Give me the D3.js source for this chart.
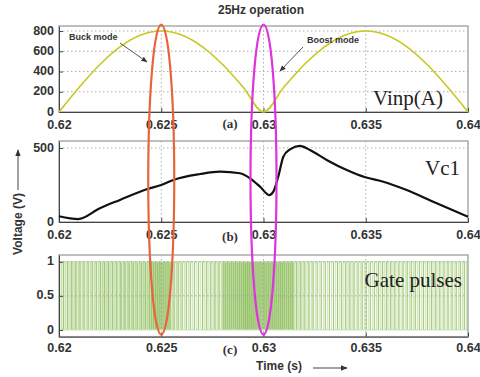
<!DOCTYPE html>
<html>
<head>
<meta charset="utf-8">
<script src="https://d3js.org/d3.v7.min.js"></script>
<style>
  body { margin: 0; background: #fff; }
  svg { display: block; }
  .tick text { font-family: Arial, "Liberation Sans", sans-serif; font-weight: bold; font-size: 12.5px; fill: #333; }
</style>
</head>
<body>
<script>
// ---- data ----
var timeTicks = [0.62, 0.625, 0.63, 0.635, 0.64];

// input voltage, one reading every 1 ms
var vinpTime = [0.620, 0.621, 0.622, 0.623, 0.624, 0.625, 0.626, 0.627, 0.628, 0.629, 0.630,
                0.631, 0.632, 0.633, 0.634, 0.635, 0.636, 0.637, 0.638, 0.639, 0.640];
var vinpVolt = [0, 247, 470, 647, 761, 800, 761, 647, 470, 247, 0,
                247, 470, 647, 761, 800, 761, 647, 470, 247, 0];
var vinpTicks = [0, 200, 400, 600, 800];

var vc1Time = [0.6200, 0.62094, 0.6220, 0.62298, 0.62429, 0.6250, 0.62559, 0.6269, 0.62787,
               0.62885, 0.62934, 0.62983, 0.63028, 0.63048, 0.63072, 0.63097, 0.6313, 0.63178,
               0.63227, 0.63309, 0.63407, 0.63498, 0.63586, 0.6370, 0.6383, 0.6400];
var vc1Volt = [39, 20, 93, 149, 221, 250, 284, 324, 340,
               329, 295, 239, 182, 205, 306, 441, 491, 514,
               486, 419, 351, 302, 272, 216, 137, 36];
var vc1Ticks = [0, 500];

// gate pulses: duty ratio for each 0.5 ms block, 5 switching periods per block
var pulsePeriod = 0.0001;
var pulseDuty = [0.72, 0.75, 0.72, 0.75, 0.8, 0.75, 0.8, 0.82, 0.85,
                 0.9, 0.9,
                 0.72, 0.65, 0.6, 0.65, 0.7,
                 0.9, 0.92, 0.95, 0.95, 0.97, 0.95, 0.9,
                 0.72, 0.65, 0.6, 0.6, 0.62, 0.65, 0.62, 0.6, 0.65,
                 0.65, 0.62, 0.65, 0.62, 0.65, 0.62, 0.62, 0.65];
var gateTicks = [0, 0.5, 1];

var modeTimes = [0.625, 0.63];
var modeColors = ["#e8643c", "#dd33e0"];

// ---- layout ----
var W = 480, H = 377;
var svg = d3.select("body").append("svg").attr("width", W).attr("height", H);

var x = d3.scaleLinear().domain([0.62, 0.64]).range([59, 468]);
var ya = d3.scaleLinear().domain([0, 850]).range([112, 26]);
var yb = d3.scaleLinear().domain([0, 547]).range([222, 141]);
var yc = d3.scaleLinear().domain([-0.1, 1.1]).range([336.7, 255]);

function panel(y, yTicks, yFmt, xLabelY, tag) {
    var g = svg.append("g");
    var top = y.range()[1], bot = y.range()[0];
    // grid
    g.selectAll(".hg").data(yTicks.filter(function (d) { return d > 0 && d < y.domain()[1]; }))
        .enter().append("line")
        .attr("x1", x.range()[0]).attr("x2", x.range()[1])
        .attr("y1", function (d) { return y(d); }).attr("y2", function (d) { return y(d); })
        .attr("stroke", "#999").attr("stroke-width", 0.8).attr("stroke-dasharray", "1.5,2.5");
    g.selectAll(".vg").data(timeTicks.slice(1, -1)).enter().append("line")
        .attr("x1", function (d) { return x(d); }).attr("x2", function (d) { return x(d); })
        .attr("y1", top).attr("y2", bot)
        .attr("stroke", "#999").attr("stroke-width", 0.8).attr("stroke-dasharray", "1.5,2.5");
    // box
    g.append("rect").attr("x", x.range()[0]).attr("y", top)
        .attr("width", x.range()[1] - x.range()[0]).attr("height", bot - top)
        .attr("fill", "none").attr("stroke", "#aaa").attr("stroke-width", 1.5);
    // axes
    var ax = g.append("g").attr("transform", "translate(0," + bot + ")")
        .call(d3.axisBottom(x).tickValues(timeTicks).tickSize(4).tickSizeOuter(0)
            .tickFormat(function (d) { return +d.toFixed(3); }));
    ax.select(".domain").attr("stroke", "#444");
    ax.selectAll(".tick line").attr("stroke", "#444").attr("y2", -4);
    ax.selectAll(".tick text").attr("y", xLabelY - bot + 1).attr("dy", 0);
    var ay = g.append("g").attr("transform", "translate(" + x.range()[0] + ",0)")
        .call(d3.axisLeft(y).tickValues(yTicks).tickSize(4).tickSizeOuter(0).tickFormat(yFmt));
    ay.select(".domain").attr("stroke", "#444");
    ay.selectAll(".tick line").attr("stroke", "#444").attr("x2", 4);
    ay.selectAll(".tick text").attr("x", -5).attr("dy", "0.25em");
    g.append("text").attr("x", 230).attr("y", xLabelY + (tag === "(a)" ? 0 : 3))
        .attr("text-anchor", "middle")
        .attr("font-family", "Liberation Serif, serif").attr("font-weight", "bold")
        .attr("font-size", 13).attr("fill", "#333").text(tag);
    return g;
}

// ---- panel (c) gate pulses ----
var pulses = [];
pulseDuty.forEach(function (d, s) {
    for (var k = 0; k < 5; k++) {
        pulses.push({ t: 0.62 + (s * 5 + k) * pulsePeriod, duty: d });
    }
});
var shade = d3.scaleLinear().domain([0.6, 0.97]).range(["#d8e9c4", "#a9cf83"]);
var gc = svg.append("g");
gc.selectAll("rect.p").data(pulses).enter().append("rect")
    .attr("x", function (d) { return x(d.t); })
    .attr("y", yc(1))
    .attr("width", function (d) { return x(d.t + pulsePeriod * d.duty) - x(d.t); })
    .attr("height", yc(0) - yc(1))
    .attr("fill", function (d) { return shade(d.duty); });
gc.selectAll("line.p").data(pulses.filter(function (d, i) { return i % 2 === 0 || d.duty > 0.85; }))
    .enter().append("line")
    .attr("x1", function (d) { return x(d.t) + 0.4; }).attr("x2", function (d) { return x(d.t) + 0.4; })
    .attr("y1", yc(1)).attr("y2", yc(0))
    .attr("stroke", "#8cbc5c").attr("stroke-width", 0.7);
gc.append("line").attr("x1", x(0.62)).attr("x2", x(0.64)).attr("y1", yc(1)).attr("y2", yc(1))
    .attr("stroke", "#c6dfad").attr("stroke-width", 1);
gc.append("line").attr("x1", x(0.62)).attr("x2", x(0.64)).attr("y1", yc(0)).attr("y2", yc(0))
    .attr("stroke", "#c6dfad").attr("stroke-width", 1);

panel(ya, vinpTicks, d3.format("d"), 128, "(a)");
panel(yb, vc1Ticks, d3.format("d"), 238, "(b)");
panel(yc, gateTicks, function (d) { return d === 0.5 ? "0.5" : d; }, 351, "(c)");

// ---- panel (a) line ----
svg.append("path")
    .datum(vinpTime.map(function (t, i) { return [t, vinpVolt[i]]; }))
    .attr("fill", "none").attr("stroke", "#c9c720").attr("stroke-width", 1.6)
    .attr("d", d3.line().x(function (d) { return x(d[0]); }).y(function (d) { return ya(d[1]); })
        .curve(d3.curveMonotoneX));

// ---- panel (b) line ----
svg.append("path")
    .datum(vc1Time.map(function (t, i) { return [t, vc1Volt[i]]; }))
    .attr("fill", "none").attr("stroke", "#111").attr("stroke-width", 2.2)
    .attr("d", d3.line().x(function (d) { return x(d[0]); }).y(function (d) { return yb(d[1]); })
        .curve(d3.curveMonotoneX));

// ---- texts ----
function serif(txt, px, py, anchor) {
    svg.append("text").attr("x", px).attr("y", py).attr("text-anchor", anchor || "end")
        .attr("font-family", "Liberation Serif, 'Times New Roman', serif").attr("font-size", 21)
        .attr("fill", "#222").text(txt);
}
serif("Vinp(A)", 443, 105);
serif("Vc1", 460, 175);
serif("Gate pulses", 462, 287);

svg.append("text").attr("x", 261).attr("y", 14).attr("text-anchor", "middle")
    .attr("font-family", "Arial, 'Liberation Sans', sans-serif").attr("font-weight", "bold")
    .attr("font-size", 12).attr("fill", "#333").text("25Hz operation");

svg.append("text").attr("x", 279).attr("y", 370).attr("text-anchor", "middle")
    .attr("font-family", "Arial, 'Liberation Sans', sans-serif").attr("font-weight", "bold")
    .attr("font-size", 12).attr("fill", "#333").text("Time (s)");

svg.append("text").attr("transform", "translate(22,224) rotate(-90)").attr("text-anchor", "middle")
    .attr("font-family", "Arial, 'Liberation Sans', sans-serif").attr("font-weight", "bold")
    .attr("font-size", 12).attr("fill", "#333").text("Voltage (V)");

var defs = svg.append("defs");
defs.append("marker").attr("id", "ah").attr("viewBox", "0 0 10 10").attr("refX", 9).attr("refY", 5)
    .attr("markerWidth", 7).attr("markerHeight", 7).attr("orient", "auto")
    .append("path").attr("d", "M0,1 L10,5 L0,9 z").attr("fill", "#333");

function arrow(x1, y1, x2, y2, w) {
    svg.append("line").attr("x1", x1).attr("y1", y1).attr("x2", x2).attr("y2", y2)
        .attr("stroke", "#444").attr("stroke-width", w || 1).attr("marker-end", "url(#ah)");
}
arrow(18, 190, 18, 150, 1);
arrow(313, 368, 347, 368, 1);
arrow(120, 43, 147, 62, 0.9);
arrow(303, 47, 280, 71, 0.9);

svg.append("text").attr("x", 69).attr("y", 40)
    .attr("font-family", "Arial, 'Liberation Sans', sans-serif").attr("font-weight", "bold")
    .attr("font-size", 9).attr("fill", "#333").text("Buck mode");
svg.append("text").attr("x", 307).attr("y", 43)
    .attr("font-family", "Arial, 'Liberation Sans', sans-serif").attr("font-weight", "bold")
    .attr("font-size", 9).attr("fill", "#333").text("Boost mode");

// ---- mode ellipses ----
svg.selectAll("ellipse.mode").data(modeTimes).enter().append("ellipse")
    .attr("cx", function (d) { return x(d); }).attr("cy", 179.5)
    .attr("rx", 13).attr("ry", 155)
    .attr("fill", "none").attr("stroke-width", 2.2)
    .attr("stroke", function (d, i) { return modeColors[i]; });
</script>
</body>
</html>
